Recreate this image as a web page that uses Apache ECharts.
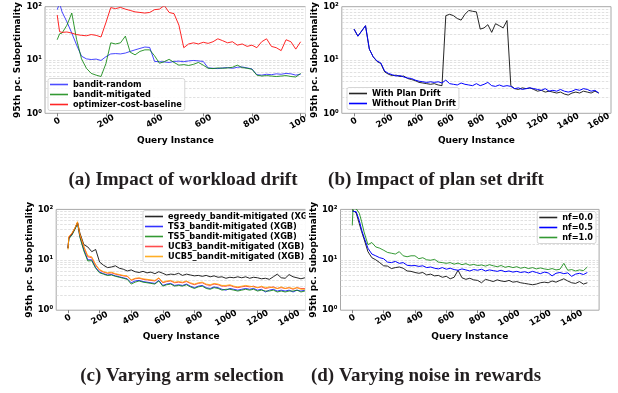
<!DOCTYPE html>
<html>
<head>
<meta charset="utf-8">
<script src="https://cdn.jsdelivr.net/npm/echarts@6/dist/echarts.min.js"></script>
<style>
html, body { margin: 0; padding: 0; background: #fff; }
#chart { width: 618px; height: 393px; }
</style>
</head>
<body>
<div id="chart"></div>
<script>
// (a) workload drift
const xA = [0, 10, 20, 40, 60, 80, 100, 120, 140, 160, 180, 200, 220, 240, 260, 280, 300, 320, 340, 360, 380,
    400, 420, 440, 460, 480, 500, 520, 540, 560, 580, 600, 620, 640, 660, 680, 700, 720, 740, 760, 780,
    800, 820, 840, 860, 880, 900, 920, 940, 960, 980, 1000];
const banditRandom = [88, 115, 80,
    52, 32, 19, 11.8, 10.5,
    10.2, 10.4, 9.8, 11.5, 13.0,
    13.2, 13.0, 13.5, 14.5, 15.5,
    16.5, 17.5, 17.2, 9.4, 9.3,
    9.2, 9.0, 9.4, 9.5, 9.3,
    9.6, 9.8, 9.6, 9.4, 7.1,
    7.0, 6.9, 7.1, 7.2, 7.0,
    7.3, 7.4, 7.1, 6.8, 5.3,
    5.2, 5.4, 5.3, 5.5, 5.4,
    5.6, 5.5, 5.2, 5.4];
const banditMitigated = [24, 31, 32,
    45, 76, 24, 10.5, 7.0,
    5.6, 5.2, 4.9, 8.5, 21,
    20, 21, 28, 14, 12.5,
    14.5, 15.5, 15.5, 12, 8.7,
    9.3, 10.3, 9.0, 8.0, 8.2,
    7.9, 8.3, 9.0, 8.0, 7.0,
    6.9, 7.1, 7.0, 7.1, 7.3,
    8.0, 7.2, 7.0, 6.7, 5.2,
    5.0, 5.1, 5.0, 4.9, 5.0,
    5.1, 4.9, 4.8, 5.6];
const optimizerCost = [70, 34, 33,
    33.5, 32, 30, 29, 28.5,
    30, 29, 27, 50, 96,
    92, 97, 90, 85, 80,
    78, 76, 78, 88, 90,
    105, 78, 74, 45, 17,
    20, 21, 20, 21.5, 20.5,
    22, 25, 23, 21, 22,
    19, 20, 18, 19, 17,
    22, 25, 18, 17, 15,
    24, 22, 16, 22];

// (b) plan set drift
const xB = [0, 25, 50, 75, 100, 125, 150, 175, 200, 225, 250, 275, 300, 325, 350, 375, 400, 425, 450, 475,
    500, 525, 550, 575, 600, 625, 650, 675, 700, 725, 750, 775, 800, 825, 850, 875, 900, 925, 950, 975,
    1000, 1025, 1050, 1075, 1100, 1125, 1150, 1175, 1200, 1225, 1250, 1275, 1300, 1325, 1350, 1375,
    1400, 1425, 1450, 1475, 1500, 1525, 1550, 1575, 1600];
const withDrift = [38, 28, 35, 44, 16, 11.5, 9.4, 8.6,
    6.0, 5.4, 5.1, 5.2, 4.9, 5.0, 4.5, 4.3,
    4.1, 3.8, 3.7, 3.6, 3.5, 3.6, 3.4, 3.3,
    68, 72, 68, 60, 56, 72, 85, 82,
    80, 38, 40, 46, 33, 48, 44, 40,
    55, 3.3, 2.9, 2.8, 3.0, 2.9, 3.0, 2.8,
    2.6, 2.7, 2.5, 2.6, 2.5, 2.4, 2.5, 2.3,
    2.2, 2.4, 2.5, 2.4, 2.6, 2.5, 2.4, 2.6,
    2.4];
const withoutDrift = [38, 28, 35, 44, 16, 11.5, 9.6, 8.8,
    6.2, 5.6, 5.3, 5.0, 5.1, 4.8, 4.6, 4.5,
    4.2, 4.0, 3.9, 3.8, 3.9, 3.8, 3.9, 3.7,
    4.2, 3.6, 3.5, 3.4, 3.7, 3.5, 3.4, 3.3,
    3.6, 3.3, 3.5, 3.8, 3.3, 3.2, 3.4, 3.2,
    3.3, 3.2, 2.9, 3.0, 2.8, 2.9, 3.0, 2.9,
    2.8, 2.7, 2.9, 2.6, 2.7, 2.6, 2.8, 2.6,
    2.5, 2.6, 2.8, 2.7, 2.9, 2.8, 2.6, 2.7,
    2.4];

// (c) arm selection and (d) reward noise share the same sample points
const xC = [0, 5, 25, 45, 60, 75,
    100, 125, 150, 175, 200, 225, 250, 275, 300, 325, 350, 375, 400, 425, 450, 475,
    500, 525, 550, 575, 600, 625, 650, 675, 700, 725, 750, 775, 800, 825, 850, 875,
    900, 925, 950, 975, 1000, 1025, 1050, 1075, 1100, 1125, 1150, 1175, 1200, 1225, 1250, 1275,
    1300, 1325, 1350, 1375, 1400, 1425, 1450, 1475, 1500];
const egreedy = [17, 27, 33, 43, 55, 34,
    20, 18, 14.5, 16, 9, 7.8, 7.0, 7.2,
    7.6, 6.8, 6.5, 6.0, 6.3, 5.8, 5.6, 5.9,
    5.5, 5.7, 5.3, 5.8, 5.4, 5.0, 5.2, 5.1,
    5.4, 4.9, 5.2, 5.0, 4.8, 4.9, 4.7, 4.9,
    4.6, 4.8, 4.5, 4.6, 4.3, 4.5, 4.4, 4.6,
    4.4, 4.6, 4.3, 4.5, 4.4, 4.2, 4.3, 4.1,
    4.6, 5.2, 4.4, 4.3, 5.1, 4.6, 4.4, 4.2,
    4.4];
const ts3 = [17, 27, 32, 42, 54, 29,
    16, 10, 10, 7, 5.7, 5.3, 5.0, 5.1,
    4.8, 4.6, 4.4, 4.2, 3.5, 3.8, 3.9, 3.7,
    3.6, 3.5, 3.4, 3.9, 3.1, 3.3, 3.4, 3.1,
    3.2, 3.1, 3.3, 3.0, 2.8, 3.0, 3.1, 2.8,
    2.7, 2.9, 2.8, 2.6, 2.5, 2.7, 2.6, 2.5,
    2.6, 2.7, 2.6, 2.7, 2.5, 2.6, 2.3, 2.5,
    2.6, 2.4, 2.5, 2.4, 2.5, 2.3, 2.5, 2.4,
    2.5];
const ts5 = [17, 26, 31, 41, 53, 28,
    15, 9.5, 9.6, 6.8, 5.5, 5.2, 4.9, 5.0,
    4.7, 4.5, 4.3, 4.1, 3.3, 3.6, 3.8, 3.6,
    3.5, 3.4, 3.3, 3.8, 3.0, 3.2, 3.3, 3.0,
    3.1, 3.0, 3.2, 2.9, 2.7, 2.9, 3.0, 2.7,
    2.6, 2.8, 2.7, 2.5, 2.6, 2.6, 2.5, 2.4,
    2.5, 2.6, 2.5, 2.6, 2.4, 2.5, 2.4, 2.4,
    2.5, 2.3, 2.4, 2.3, 2.4, 2.4, 2.5, 2.3,
    2.4];
const ucb3 = [17, 28, 33, 43, 56, 31,
    18, 11.5, 11, 7.8, 6.2, 5.7, 5.4, 5.5,
    5.2, 5.0, 4.8, 4.7, 3.9, 4.2, 4.3, 4.1,
    4.0, 3.9, 3.8, 4.3, 3.5, 3.7, 3.8, 3.5,
    3.6, 3.5, 3.7, 3.4, 3.2, 3.4, 3.5, 3.2,
    3.1, 3.3, 3.2, 3.0, 3.0, 3.1, 2.9, 2.8,
    2.9, 3.0, 2.9, 3.0, 2.8, 2.9, 2.7, 2.8,
    2.9, 2.7, 2.8, 2.7, 2.8, 2.6, 2.8, 2.7,
    2.7];
const ucb5 = [16, 29, 34, 44, 57, 32,
    18.5, 12, 11.5, 8, 6.4, 5.8, 5.5, 5.7,
    5.3, 5.1, 4.9, 4.8, 4.0, 4.3, 4.4, 4.2,
    4.1, 4.0, 3.9, 4.4, 3.6, 3.8, 3.9, 3.6,
    3.7, 3.6, 3.8, 3.5, 3.3, 3.5, 3.6, 3.3,
    3.2, 3.4, 3.3, 3.1, 3.1, 3.2, 3.0, 2.9,
    3.0, 3.1, 3.0, 2.9, 2.8, 3.0, 2.8, 2.9,
    2.8, 2.7, 2.9, 2.7, 2.8, 2.7, 2.8, 2.6,
    2.6];
const nf00 = [98, 100, 85, 52, 36, 26,
    14.5, 11, 10, 8.8, 7.6, 7.5, 6.7, 7.0,
    7.2, 6.8, 6.0, 5.9, 5.6, 5.4, 5.6, 5.0,
    5.2, 4.8, 4.9, 4.5, 4.7, 4.2, 4.5, 6.2,
    4.4, 4.1, 4.3, 4.0, 3.9, 3.5, 4.1, 3.9,
    3.7, 4.0, 3.8, 3.7, 3.9, 3.6, 3.7, 3.5,
    3.4, 3.3, 3.2, 3.3, 3.5, 3.6, 3.5, 3.8,
    3.6, 3.9, 4.2, 3.8, 3.5, 3.4, 3.7, 3.3,
    3.5];
const nf05 = [92, 100, 90, 60, 39, 28,
    17, 13, 12, 11, 10.5, 9, 8.8, 9.3,
    8.5, 8.8, 7.8, 7.6, 7.7, 7.4, 7.6, 7.0,
    7.2, 6.8, 6.6, 7.0, 6.5, 6.8, 6.4, 6.2,
    6.6, 6.3, 6.0, 6.4, 6.2, 6.5, 6.0, 6.3,
    6.1, 5.9, 6.2, 5.8, 6.0, 5.7, 5.9, 5.6,
    5.8, 5.5, 5.9, 5.6, 5.3, 5.7, 5.5, 4.8,
    5.4, 5.6, 5.3, 5.5, 4.7, 5.2, 5.4, 5.1,
    5.6];
const nf10 = [48, 105, 103, 84, 57, 36,
    20, 22, 18, 17, 15.5, 14, 13.5, 13,
    14.5, 12, 11.5, 12, 12, 10.5, 11, 10,
    9.8, 10.2, 9, 8.8, 8.5, 8.8, 8.2, 8.6,
    8.0, 8.4, 7.8, 8.1, 7.7, 7.9, 7.5, 8.0,
    7.6, 7.3, 7.7, 7.1, 7.4, 7.0, 7.3, 6.8,
    7.1, 6.7, 7.0, 6.6, 6.9, 6.6, 6.4, 6.7,
    6.3, 6.5, 8.5, 6.2, 6.4, 6.0, 6.3, 6.1,
    7.2];

const ticksA = [0, 200, 400, 600, 800, 1000];
const ticksB = [0, 200, 400, 600, 800, 1000, 1200, 1400, 1600];
const ticksC = [0, 200, 400, 600, 800, 1000, 1200, 1400];
const yTickText = ['10⁰', '10¹', '10²'];
const gridLevels = [2, 3, 4, 5, 6, 7, 8, 9, 10, 20, 30, 40, 50, 60, 70, 80, 90];

const sans = 'DejaVu Sans';

const panels = [
    {
        box: {left: 45, top: 6.7, width: 261, height: 106.6}, min: -50, max: 1022, ticks: ticksA, nameGap: 23,
        legend: {left: 48, top: 78.5},
        lines: [
            ['bandit-random', xA, banditRandom, 'rgba(0,0,255,0.72)', '#4d4dff'],
            ['bandit-mitigated', xA, banditMitigated, 'rgba(0,128,0,0.8)', '#339933'],
            ['optimizer-cost-baseline', xA, optimizerCost, 'rgba(255,0,0,0.85)', '#ff2626'],
        ]
    },
    {
        box: {left: 341.8, top: 6.7, width: 269.2, height: 106.6}, min: -80, max: 1680, ticks: ticksB, nameGap: 23,
        legend: {left: 347, top: 87.5},
        lines: [
            ['With Plan Drift', xB, withDrift, 'rgba(0,0,0,0.85)', '#262626'],
            ['Without Plan Drift', xB, withoutDrift, '#0000ff', '#0000ff'],
        ]
    },
    {
        box: {left: 56.2, top: 209.4, width: 249.8, height: 100.8}, min: -75, max: 1507, ticks: ticksC, nameGap: 22,
        legend: {left: 143, top: 210.5},
        lines: [
            ['egreedy_bandit-mitigated (XGB)', xC, egreedy, 'rgba(0,0,0,0.85)', '#262626'],
            ['TS3_bandit-mitigated (XGB)', xC, ts3, 'rgba(0,0,255,0.8)', '#3333ff'],
            ['TS5_bandit-mitigated (XGB)', xC, ts5, 'rgba(0,128,0,0.8)', '#339933'],
            ['UCB3_bandit-mitigated (XGB)', xC, ucb3, 'rgba(255,0,0,0.7)', '#ff4d4d'],
            ['UCB5_bandit-mitigated (XGB)', xC, ucb5, 'rgba(255,165,0,0.85)', '#ffae26'],
        ]
    },
    {
        box: {left: 340.5, top: 209.4, width: 258.6, height: 100.8}, min: -75, max: 1575, ticks: ticksC, nameGap: 22,
        legend: {right: 22, top: 211.5},
        lines: [
            ['nf=0.0', xC, nf00, 'rgba(0,0,0,0.85)', '#262626'],
            ['nf=0.5', xC, nf05, '#0000ff', '#0000ff'],
            ['nf=1.0', xC, nf10, 'rgba(0,128,0,0.8)', '#339933'],
        ]
    },
];

const grid = [], xAxis = [], yAxis = [], legend = [], series = [];

panels.forEach((p, i) => {
    grid.push(Object.assign({show: true, borderColor: '#a8a8a8', borderWidth: 1, backgroundColor: 'transparent'}, p.box));
    xAxis.push({
        gridIndex: i, type: 'value', min: p.min, max: p.max,
        axisLine: {show: false},
        splitLine: {show: false},
        axisTick: {show: true, customValues: p.ticks, length: 3, lineStyle: {color: '#666', width: 0.8}},
        axisLabel: {
            customValues: p.ticks, rotate: 30, align: 'center', verticalAlign: 'middle', margin: 8,
            fontFamily: sans, fontWeight: 'bold', fontSize: 8.5, color: '#000',
            formatter: (v) => String(v)
        },
        name: 'Query Instance', nameLocation: 'middle', nameGap: p.nameGap,
        nameTextStyle: {fontFamily: sans, fontWeight: 'bold', fontSize: 9, color: '#000'}
    });
    yAxis.push({
        gridIndex: i, type: 'log', logBase: 10, min: 1, max: 100, z: 60,
        axisLine: {show: false},
        axisTick: {show: false},
        splitLine: {show: false},
        axisLabel: {
            margin: 3, fontFamily: sans, fontWeight: 'bold', fontSize: 8.5, color: '#000',
            formatter: (v) => yTickText[Math.round(Math.log10(v))]
        },
        name: '95th pc. Suboptimality', nameLocation: 'middle', nameGap: 20,
        nameTextStyle: {fontFamily: sans, fontWeight: 'bold', fontSize: 9, color: '#000'}
    });
    const lg = {
        orient: 'vertical', top: p.legend.top, z: 10,
        data: p.lines.map(l => ({
            name: l[0], icon: 'rect',
            itemStyle: {color: l[4], borderWidth: 0, opacity: 1, decal: 'none'}
        })),
        itemWidth: 18, itemHeight: 1.6, itemGap: 0,
        padding: [1, 3, 1, 2],
        backgroundColor: 'rgba(255,255,255,0.85)',
        borderColor: '#cccccc', borderWidth: 0.8, borderRadius: 2,
        selectedMode: false,
        textStyle: {fontFamily: sans, fontWeight: 'bold', fontSize: 8.2, color: '#000', lineHeight: 10}
    };
    if (p.legend.left !== undefined) lg.left = p.legend.left;
    if (p.legend.right !== undefined) lg.right = p.legend.right;
    legend.push(lg);

    // light dashed log grid lines, kept under the curves and the legend
    series.push({
        type: 'line', xAxisIndex: i, yAxisIndex: i, data: [], silent: true, z: 1,
        markLine: {
            silent: true, z: 1, symbol: ['none', 'none'], label: {show: false},
            lineStyle: {color: '#d4d4d4', width: 0.7, type: [2.5, 1.5]},
            emphasis: {disabled: true},
            data: gridLevels.map(v => ({yAxis: v}))
        }
    });
    p.lines.forEach(([name, xs, ys, color], k) => {
        series.push({
            name, type: 'line', xAxisIndex: i, yAxisIndex: i,
            data: xs.map((x, j) => [x, ys[j]]),
            showSymbol: false, symbol: 'none', clip: true, silent: true,
            lineStyle: {color, width: 1}, itemStyle: {color},
            emphasis: {disabled: true}, z: 2 + k
        });
    });
});

const captionStyle = {fontFamily: 'Liberation Serif', fontWeight: 'bold', fontSize: 19, fill: '#231f20', align: 'center', verticalAlign: 'middle'};

const chart = echarts.init(document.getElementById('chart'));
chart.setOption({
    animation: false,
    grid, xAxis, yAxis, legend, series,
    graphic: [
        // the two left panels are cut off at their right edge
        {type: 'rect', shape: {x: 305.5, y: 0, width: 24, height: 160}, style: {fill: '#fff'}, z: 50, silent: true},
        {type: 'rect', shape: {x: 305.5, y: 200, width: 24, height: 150}, style: {fill: '#fff'}, z: 50, silent: true},
        {type: 'text', x: 183, y: 180, z: 70, style: Object.assign({text: '(a) Impact of workload drift'}, captionStyle)},
        {type: 'text', x: 436, y: 180, z: 70, style: Object.assign({text: '(b) Impact of plan set drift'}, captionStyle)},
        {type: 'text', x: 182, y: 376, z: 70, style: Object.assign({text: '(c) Varying arm selection'}, captionStyle)},
        {type: 'text', x: 426, y: 376, z: 70, style: Object.assign({text: '(d) Varying noise in rewards'}, captionStyle)},
    ]
});
</script>
</body>
</html>
